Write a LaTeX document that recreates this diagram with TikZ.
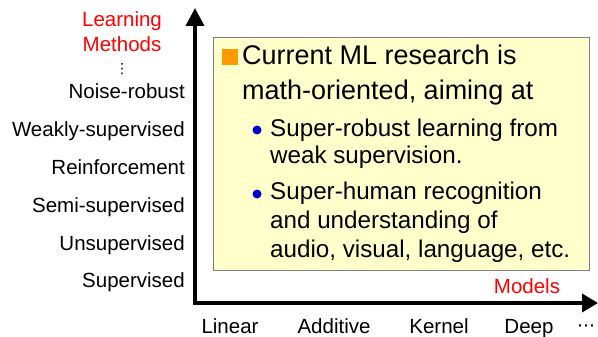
\documentclass[tikz,border=0pt]{standalone}
\usepackage{fontspec}
\setmainfont{Liberation Sans}
\newfontfamily\symfont{DejaVu Sans}
\usetikzlibrary{arrows.meta}
\definecolor{boxfill}{HTML}{FFFFCC}
\definecolor{boxline}{HTML}{7F7F7F}
\definecolor{sqorange}{HTML}{FF9900}
\definecolor{dotblue}{HTML}{0000CC}
\begin{document}
\begin{tikzpicture}[x=1pt,y=-1pt,
  ylbl/.style={anchor=base east,inner sep=0pt,font=\fontsize{20.5}{24}\selectfont},
  xlbl/.style={anchor=base,inner sep=0pt,font=\fontsize{20.5}{24}\selectfont},
  axtitle/.style={anchor=base,inner sep=0pt,text=red,font=\fontsize{20.5}{24}\selectfont},
  bigline/.style={anchor=base west,inner sep=0pt,font=\fontsize{27}{32}\selectfont},
  subline/.style={anchor=base west,inner sep=0pt,font=\fontsize{24.2}{28}\selectfont},
  axisline/.style={line width=3.5pt,line join=miter,
    {Triangle[length=18pt,width=18pt]}-{Triangle[length=16pt,width=18pt]}},
  notebox/.style={draw=boxline,fill=boxfill,line width=1.2pt,anchor=north west,inner sep=0pt,
    minimum width=376pt,minimum height=233pt},
  sqmark/.style={fill=sqorange,inner sep=0pt,minimum size=16pt,anchor=north west},
  dotmark/.style={circle,fill=dotblue,inner sep=0pt,minimum size=9pt}]
\useasboundingbox (0,0) rectangle (598,337);

% axes
\coordinate (top) at (195,8);
\coordinate (orig) at (195,303);
\coordinate (right) at (598,303);
\draw[axisline] (top) -- (orig) -- (right);

% y-axis title and labels
\node[axtitle] (lt1) at (122,27) {Learning};
\node[axtitle] (lt2) at (122,52) {Methods};
\node[inner sep=0pt,font=\symfont\fontsize{14}{14}\selectfont] (vd) at (122,69) {⋮};
\node[ylbl] (m6) at (185,99) {Noise-robust};
\node[ylbl] (m5) at (185,137) {Weakly-supervised};
\node[ylbl] (m4) at (185,175) {Reinforcement};
\node[ylbl] (m3) at (185,212) {Semi-supervised};
\node[ylbl] (m2) at (185,250) {Unsupervised};
\node[ylbl] (m1) at (185,287) {Supervised};

% x-axis title and labels
\node[axtitle] (xt) at (527,293) {Models};
\node[xlbl] (x1) at (230,333) {Linear};
\node[xlbl] (x2) at (334,333) {Additive};
\node[xlbl] (x3) at (439,333) {Kernel};
\node[xlbl] (x4) at (529,333) {Deep};
\node[inner sep=0pt,font=\symfont\fontsize{18}{18}\selectfont] (x5) at (586,328) {⋯};

% note box
\node[notebox] (box) at (213,37) {};
\node[sqmark] (sq) at (222,49) {};
\node[bigline] (c1) at (242,65) {Current ML research is};
\node[bigline] (c2) at (242,100) {math-oriented, aiming at};
\node[dotmark] (b1) at (257,130) {};
\node[subline] (s1) at (270,136) {Super-robust learning from};
\node[subline] (s2) at (270,164) {weak supervision.};
\node[dotmark] (b2) at (257,194) {};
\node[subline] (s3) at (270,200) {Super-human recognition};
\node[subline] (s4) at (270,228) {and understanding of};
\node[subline] (s5) at (270,257) {audio, visual, language, etc.};
\end{tikzpicture}
\end{document}
